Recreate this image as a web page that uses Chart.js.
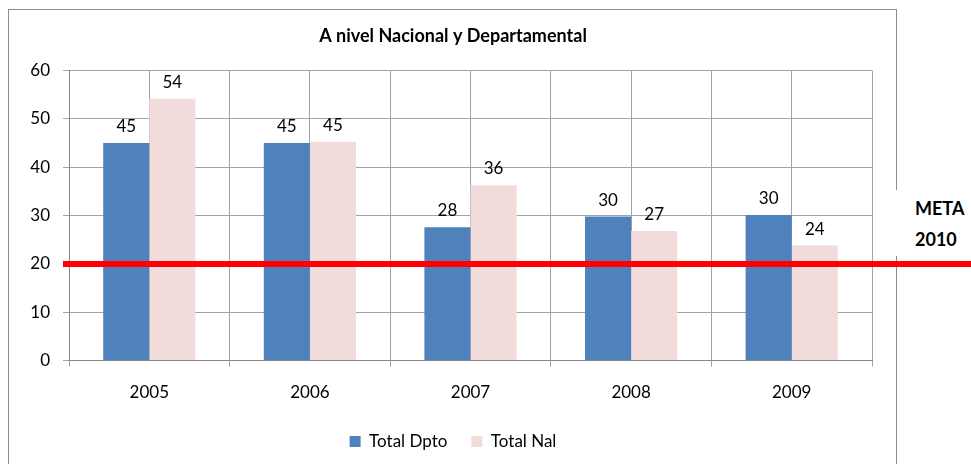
<!DOCTYPE html>
<html>
<head>
<meta charset="utf-8">
<script src="https://cdn.jsdelivr.net/npm/chart.js@4.4.1/dist/chart.umd.min.js"></script>
<style>
  html, body { margin: 0; padding: 0; background: #fff; }
  #wrap { position: relative; width: 971px; height: 464px; overflow: hidden; }
  #frame { position: absolute; left: 8px; top: 9px; width: 887px; height: 500px; border: 1px solid #8c8c8c; }
  #chart { position: absolute; left: 0; top: 0; }
  #meta { position: absolute; left: 886px; top: 190px; width: 85px; height: 66px; background: #fff;
          font-family: Lato, sans-serif; font-weight: bold; font-size: 18px; line-height: 31px;
          padding-left: 29px; box-sizing: border-box; padding-top: 3px; color: #000; }
</style>
</head>
<body>
<div id="wrap">
  <div id="frame"></div>
  <canvas id="chart" width="971" height="464"></canvas>
  <div id="meta">META<br>2010</div>
</div>
<script>
const years = ['2005', '2006', '2007', '2008', '2009'];
const totalDpto = [45, 45, 27.6, 29.8, 30.1];
const totalNal = [54.2, 45.3, 36.3, 26.8, 23.8];
const metaValue = 20;
const yTicks = [0, 10, 20, 30, 40, 50, 60];

const FONT = 'Lato, sans-serif';
const GRID = '#a3a3a3';

// red target line across the whole picture
const metaLine = {
    id: 'metaLine',
    afterDatasetsDraw(chart) {
        const ctx = chart.ctx;
        const y = chart.scales.y.getPixelForValue(metaValue);
        ctx.save();
        ctx.strokeStyle = '#ff0000';
        ctx.lineWidth = 6;
        ctx.beginPath();
        ctx.moveTo(chart.chartArea.left - 6, y);
        ctx.lineTo(chart.width, y);
        ctx.stroke();
        ctx.restore();
    }
};

// value labels on top of the bars
const barLabels = {
    id: 'barLabels',
    afterDatasetsDraw(chart) {
        const ctx = chart.ctx;
        ctx.save();
        ctx.font = '17px ' + FONT;
        ctx.fillStyle = '#000';
        ctx.textAlign = 'center';
        ctx.textBaseline = 'bottom';
        chart.data.datasets.forEach((ds, i) => {
            chart.getDatasetMeta(i).data.forEach((bar, j) => {
                ctx.fillText(Math.round(ds.data[j]), bar.x, bar.y - 8);
            });
        });
        ctx.restore();
    }
};

const ctx = document.getElementById('chart').getContext('2d');
new Chart(ctx, {
    type: 'bar',
    data: {
        labels: years,
        datasets: [
            {
                label: 'Total Dpto',
                data: totalDpto,
                backgroundColor: '#4f81bd',
                categoryPercentage: 0.574,
                barPercentage: 1
            },
            {
                label: 'Total Nal',
                data: totalNal,
                backgroundColor: '#f2dcdb',
                categoryPercentage: 0.574,
                barPercentage: 1
            }
        ]
    },
    options: {
        responsive: false,
        animation: false,
        layout: {
            padding: { left: 34, right: 99, top: 0, bottom: 4 }
        },
        plugins: {
            title: {
                display: true,
                text: 'A nivel Nacional y Departamental',
                color: '#000',
                font: { family: FONT, size: 18, weight: 'bold' },
                padding: { top: 25, bottom: 24 }
            },
            legend: {
                position: 'bottom',
                labels: {
                    color: '#000',
                    font: { family: FONT, size: 17 },
                    boxWidth: 11,
                    boxHeight: 11,
                    padding: 24
                }
            },
            tooltip: { enabled: false }
        },
        scales: {
            x: {
                type: 'category',
                grid: { color: GRID, offset: true, tickLength: 6 },
                border: { color: '#868686' },
                ticks: { color: '#000', font: { family: FONT, size: 17 }, padding: 16 },
                afterFit(scale) { scale.height -= 10; }
            },
            x2: {
                type: 'category',
                labels: years,
                position: 'bottom',
                offset: true,
                grid: { color: GRID, offset: false, drawTicks: false },
                border: { display: false },
                ticks: { display: false },
                afterFit(scale) { scale.height = 0; }
            },
            y: {
                min: yTicks[0],
                max: yTicks[yTicks.length - 1],
                grid: { color: GRID, tickLength: 6 },
                border: { color: '#868686' },
                ticks: {
                    stepSize: 10,
                    color: '#000',
                    font: { family: FONT, size: 17 },
                    padding: 13
                },
                afterFit(scale) {
                    scale.width = 35;
                    // labels sit in the left padding, so don't clip them to the axis box
                    scale._computeLabelArea = () => undefined;
                }
            }
        }
    },
    plugins: [metaLine, barLabels]
});
</script>
</body>
</html>
